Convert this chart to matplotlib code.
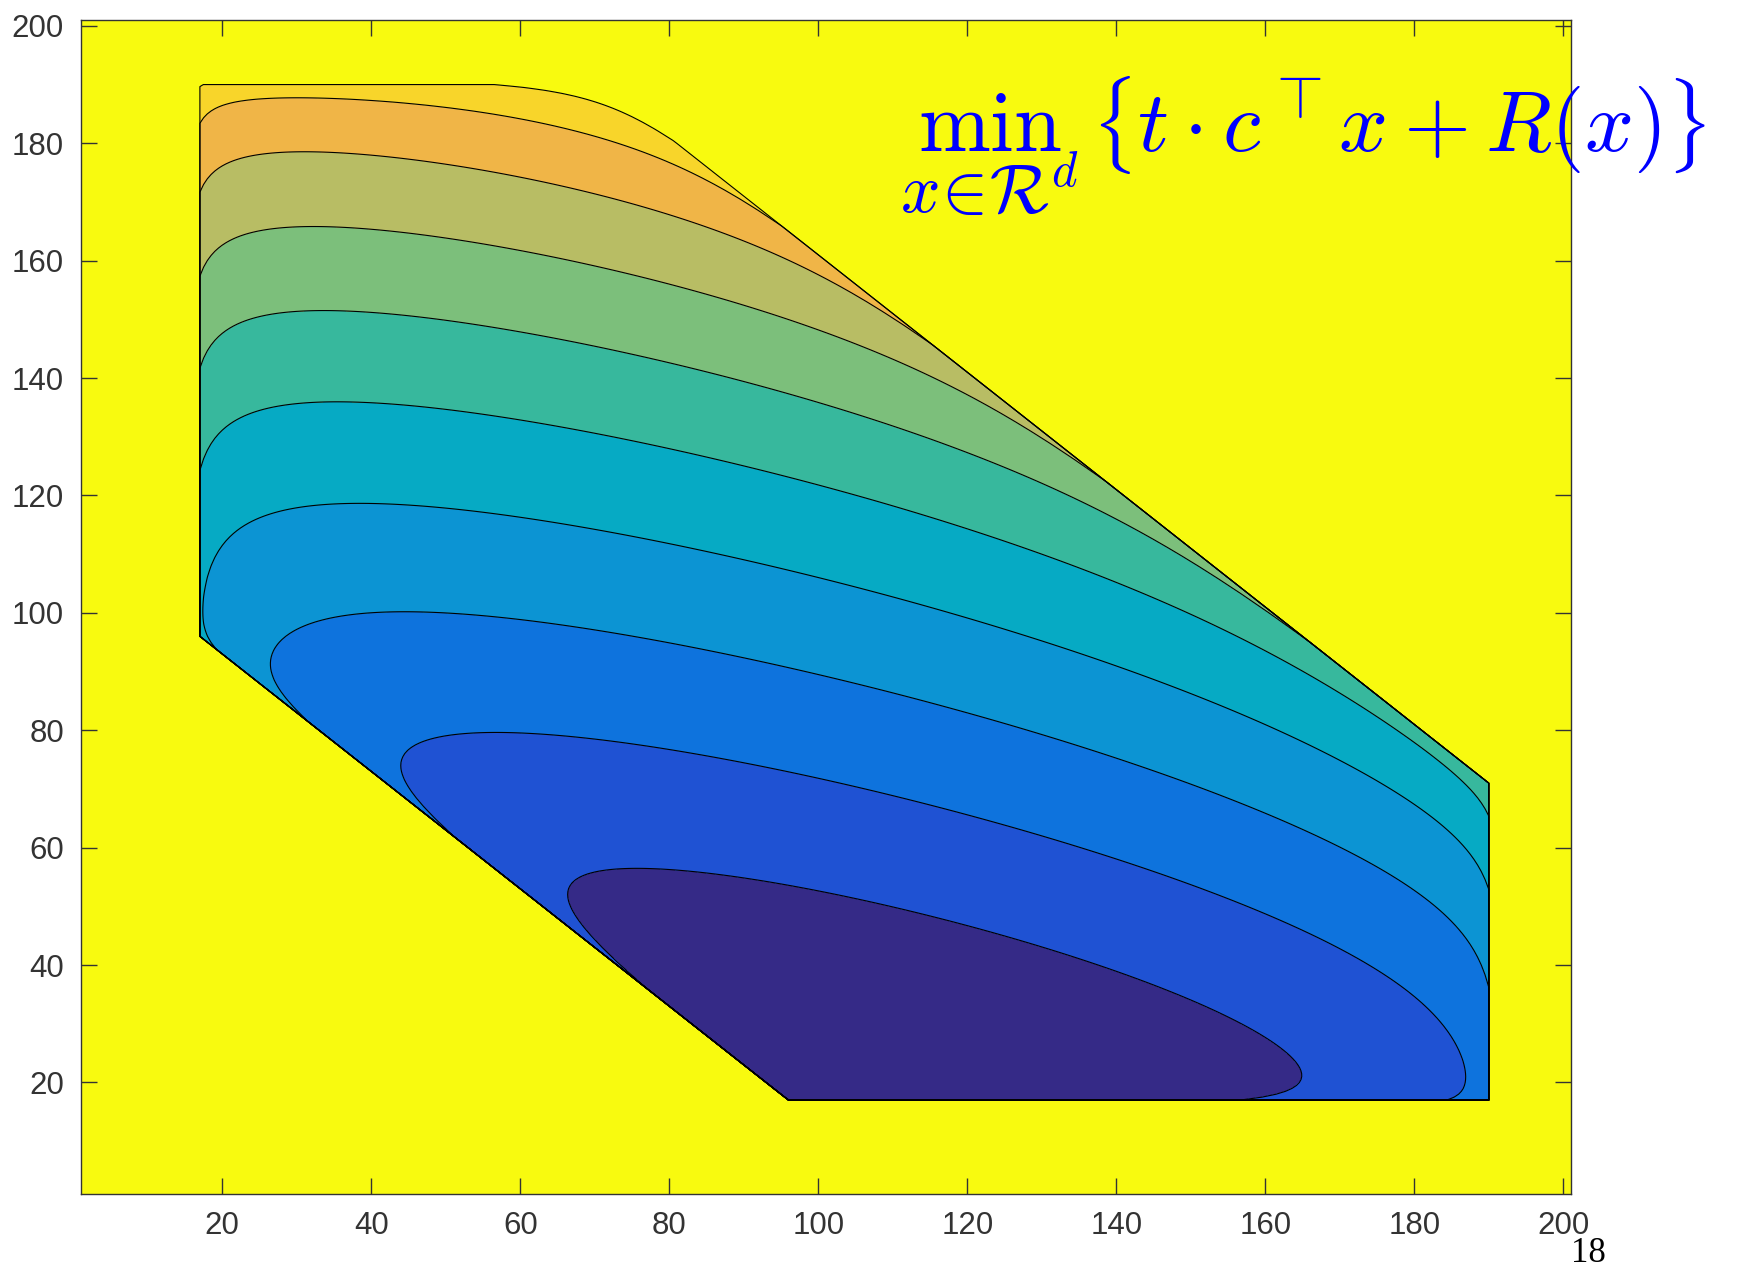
import numpy as np
import matplotlib
matplotlib.use("Agg")
import matplotlib.pyplot as plt

# ---- data -------------------------------------------------------------
grid = np.arange(1, 201.01, 0.5)              # sample points along each axis
# polytope  {x : A x <= b}: drawn region and barrier offsets
A_rows = np.array([[-1, 0], [1, 0], [0, -1], [0, 1], [-1, -1], [1, 1]])
edge_b = np.array([-17, 190, -17, 190, -113, 261])          # drawn edges
barrier_b = np.array([-15.65, 191.5, -15.5, 191.5, -112, 262])  # barrier R(x)
c_vec = np.array([0.05, 0.17])                # cost vector
t_val = 1.0
outside_value = 1000.0
levels = [-11.95, -9.15, -6.3, -3.45, -0.55, 2.25, 5.05, 7.9, 10.75, 13.3]
band_colors = ["#352a87", "#1f52d3", "#0e73dd", "#0c94d3", "#06aac4",
               "#37b89d", "#7cbf7b", "#b8bd64", "#f0b547", "#f8d52a", "#f8fa0f"]
xticks = [20, 40, 60, 80, 100, 120, 140, 160, 180, 200]
yticks = [20, 40, 60, 80, 100, 120, 140, 160, 180, 200]
formula_min = r"$\min$"
formula_sub = r"$x\!\in\!\mathcal{R}^d$"
formula_body = r"$\left\{t\cdot c^\top x+R(x)\right\}$"
page_number = "18"

# ---- objective t c^T x + barrier --------------------------------------
X, Y = np.meshgrid(grid, grid)
AX = (A_rows[:, 0][None, None, :] * X[..., None]
      + A_rows[:, 1][None, None, :] * Y[..., None])
feasible = np.all(edge_b[None, None, :] - AX >= -1e-9, axis=-1)
slack = barrier_b[None, None, :] - AX
R = -np.sum(np.log(np.where(slack > 0, slack, 1.0)), axis=-1)
Z = t_val * (c_vec[0] * X + c_vec[1] * Y) + R
Z = np.where(feasible, Z, outside_value)

# ---- figure -----------------------------------------------------------
fig = plt.figure(figsize=(17.37, 12.70), dpi=100)
ax = fig.add_axes([0.04646, 0.05984, 0.85780, 0.92441])

fill_levels = [Z.min() - 1.0] + levels + [outside_value + 1.0]
ax.contourf(X, Y, Z, levels=fill_levels, colors=band_colors)
ax.contour(X, Y, Z, levels=levels, colors="black", linewidths=0.8,
           negative_linestyles="solid")

ax.set_xlim(1, 201)
ax.set_ylim(1, 201)
ax.set_xticks(xticks)
ax.set_yticks(yticks)
ax.tick_params(direction="in", length=11.5, width=1.0, colors="#333333",
               labelsize=22.5, top=True, right=True, pad=12)
for lab in ax.get_xticklabels() + ax.get_yticklabels():
    lab.set_fontfamily("Liberation Sans")
for sp in ax.spines.values():
    sp.set_color("#333333")
    sp.set_linewidth(1.0)

blue = "#0000ff"
fig.text(990 / 1737, 1 - 151 / 1270, formula_min, fontsize=62, color=blue,
         ha="center", va="baseline", math_fontfamily="cm")
fig.text(990 / 1737, 1 - 213 / 1270, formula_sub, fontsize=50, color=blue,
         ha="center", va="baseline", math_fontfamily="cm")
fig.text(1091 / 1737, 1 - 151 / 1270, formula_body, fontsize=62, color=blue,
         ha="left", va="baseline", math_fontfamily="cm")
fig.text(1588 / 1737, 1 - 1254 / 1270, page_number, fontsize=25,
         family="Liberation Serif", ha="center", va="center", color="black")

fig.savefig("out.png", dpi=100)
